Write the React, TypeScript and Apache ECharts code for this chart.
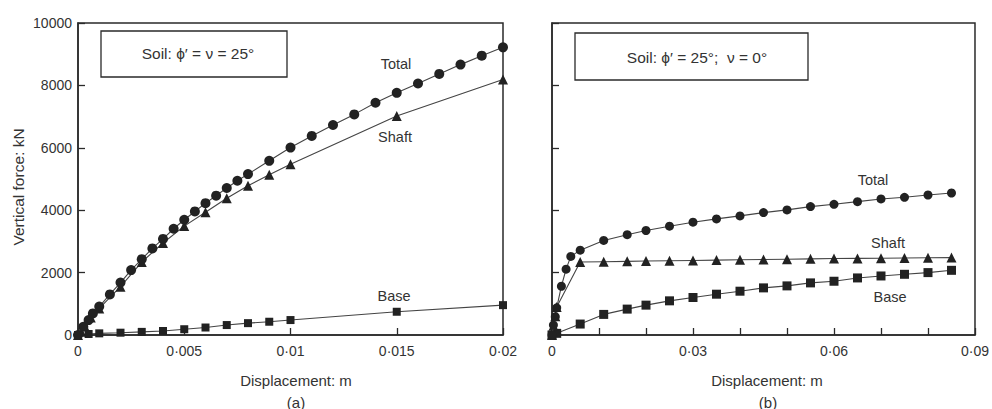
import React, { useEffect, useRef } from "react";
import * as echarts from "echarts";

// Panel (a): Soil φ' = ν = 25°  — [displacement m, force kN]
const aTotal: number[][] = [
  [0, 0], [0.00025, 265], [0.0005, 478], [0.0007, 691], [0.001, 910], [0.0015, 1300],
  [0.002, 1680], [0.0025, 2080], [0.003, 2430], [0.0035, 2775], [0.004, 3080],
  [0.0045, 3405], [0.005, 3695], [0.0055, 3960], [0.006, 4225], [0.0065, 4466],
  [0.007, 4711], [0.0075, 4944], [0.008, 5157], [0.009, 5583], [0.01, 6007],
  [0.011, 6380], [0.012, 6731], [0.013, 7071], [0.014, 7443], [0.015, 7762],
  [0.016, 8060], [0.017, 8368], [0.018, 8666], [0.019, 8953], [0.02, 9220],
];
const aShaft: number[][] = [
  [0, 0], [0.00015, 105], [0.0003, 300], [0.0006, 560], [0.001, 851], [0.002, 1550],
  [0.003, 2339], [0.004, 2950], [0.005, 3490], [0.006, 3935], [0.007, 4381],
  [0.008, 4785], [0.009, 5136], [0.01, 5476], [0.015, 7018], [0.02, 8188],
];
const aBase: number[][] = [
  [0, 0], [0.0005, 32], [0.001, 53], [0.002, 74], [0.003, 100], [0.004, 128],
  [0.005, 185], [0.006, 240], [0.007, 319], [0.008, 380], [0.009, 425],
  [0.01, 479], [0.015, 745], [0.02, 957],
];

// Panel (b): Soil φ' = 25°; ν = 0°
const bTotal: number[][] = [
  [0, 0], [0.0003, 319], [0.0007, 585], [0.001, 870], [0.002, 1563], [0.003, 2110],
  [0.004, 2520], [0.006, 2720], [0.011, 3030], [0.016, 3215], [0.02, 3349],
  [0.025, 3487], [0.03, 3615], [0.035, 3721], [0.04, 3817], [0.045, 3923],
  [0.05, 4009], [0.055, 4115], [0.06, 4189], [0.065, 4274], [0.07, 4360],
  [0.075, 4413], [0.08, 4487], [0.085, 4551],
];
const bShaft: number[][] = [
  [0, 0], [0.0003, 300], [0.0007, 600], [0.001, 900], [0.006, 2340], [0.011, 2350],
  [0.016, 2360], [0.02, 2370], [0.025, 2380], [0.03, 2390], [0.035, 2400],
  [0.04, 2410], [0.045, 2420], [0.05, 2430], [0.055, 2440], [0.06, 2450],
  [0.065, 2455], [0.07, 2460], [0.075, 2470], [0.08, 2475], [0.085, 2480],
];
const bBase: number[][] = [
  [0, 0], [0.001, 53], [0.006, 351], [0.011, 660], [0.016, 830], [0.02, 957],
  [0.025, 1095], [0.03, 1202], [0.035, 1308], [0.04, 1404], [0.045, 1510],
  [0.05, 1574], [0.055, 1670], [0.06, 1723], [0.065, 1829], [0.07, 1892],
  [0.075, 1946], [0.08, 2000], [0.085, 2073],
];

const yTicks = { min: 0, max: 10000, interval: 2000 };
const aXTicks = { min: 0, max: 0.02, interval: 0.005 };
const bXTicks = { min: 0, max: 0.09, interval: 0.01, labelEvery: 0.03 };

const FONT = "'Liberation Sans', Arial, sans-serif";
const INK = "#2a2a2a";
const TXT = "#333";

const fmt = (v: number) => String(+v.toFixed(4)).replace(".", "\u00b7");

export default function App() {
  const ref = useRef<HTMLDivElement>(null);
  useEffect(() => {
    document.body.style.margin = "0";
    const chart = echarts.init(ref.current!, null, { renderer: "svg" });
    const axisLine = { show: true, lineStyle: { color: INK, width: 1.5 } };
    const axisTick = { show: true, inside: true, length: 7, lineStyle: { color: INK, width: 1.3 } };
    const lbl = { color: TXT, fontFamily: FONT, fontSize: 14 };
    const lineSeries = (data: number[][], idx: number, symbol: string, size: number) => ({
      type: "line",
      xAxisIndex: idx,
      yAxisIndex: idx,
      data,
      symbol,
      symbolSize: size,
      showSymbol: true,
      lineStyle: { color: "#444", width: 1.1 },
      itemStyle: { color: "#222", borderWidth: 0 },
      z: symbol === "circle" ? 4 : 3,
    });
    const text = (t: string, x: number, y: number, size = 14, extra: any = {}) => ({
      type: "text",
      x,
      y,
      ...extra,
      style: {
        text: t,
        fill: TXT,
        font: `${size}px ${FONT}`,
        align: "center",
        verticalAlign: "middle",
        textAlign: "center",
        textVerticalAlign: "middle",
      },
      z: 10,
    });
    chart.setOption({
      animation: false,
      backgroundColor: "#fff",
      grid: [
        { left: 78, top: 23, width: 425, height: 312, show: true, borderColor: INK, borderWidth: 1.5, backgroundColor: "transparent" },
        { left: 552, top: 23, width: 424, height: 312, show: true, borderColor: INK, borderWidth: 1.5, backgroundColor: "transparent" },
      ],
      xAxis: [
        {
          type: "value", gridIndex: 0, min: aXTicks.min, max: aXTicks.max, interval: aXTicks.interval,
          axisLine, axisTick, splitLine: { show: false },
          axisLabel: { ...lbl, margin: 9, formatter: (v: number) => fmt(v) },
        },
        {
          type: "value", gridIndex: 1, min: bXTicks.min, max: bXTicks.max, interval: bXTicks.interval,
          axisLine, axisTick, splitLine: { show: false },
          axisLabel: {
            ...lbl, margin: 9,
            formatter: (v: number) => (Math.round(v * 100) % Math.round(bXTicks.labelEvery * 100) === 0 ? fmt(v) : ""),
          },
        },
      ],
      yAxis: [
        {
          type: "value", gridIndex: 0, min: yTicks.min, max: yTicks.max, interval: yTicks.interval,
          axisLine, axisTick, splitLine: { show: false },
          axisLabel: { ...lbl, margin: 6, formatter: (v: number) => String(Math.round(v)) },
        },
        {
          type: "value", gridIndex: 1, min: yTicks.min, max: yTicks.max, interval: yTicks.interval,
          axisLine, axisTick, splitLine: { show: false },
          axisLabel: { show: false },
        },
      ],
      series: [
        lineSeries(aBase, 0, "rect", 8),
        lineSeries(aShaft, 0, "triangle", 10),
        lineSeries(aTotal, 0, "circle", 10),
        lineSeries(bBase, 1, "rect", 9),
        lineSeries(bShaft, 1, "triangle", 10),
        lineSeries(bTotal, 1, "circle", 9),
      ],
      graphic: [
        { type: "rect", shape: { x: 101, y: 31, width: 186, height: 46 }, style: { fill: "#fff", stroke: INK, lineWidth: 1.3 }, z: 9 },
        text("Soil: \u03d5\u2032 = \u03bd = 25\u00b0", 198, 53, 15.5),
        { type: "rect", shape: { x: 575, y: 33, width: 233, height: 47 }, style: { fill: "#fff", stroke: INK, lineWidth: 1.3 }, z: 9 },
        text("Soil: \u03d5\u2032 = 25\u00b0;  \u03bd = 0\u00b0", 697, 57, 15.5),
        text("Total", 396, 64, 14.5),
        text("Shaft", 395, 137, 14.5),
        text("Base", 394, 296, 14.5),
        text("Total", 873, 180, 14.5),
        text("Shaft", 888, 243, 14.5),
        text("Base", 890, 297, 14.5),
        text("Displacement: m", 296, 380, 15),
        text("(a)", 296, 402, 15),
        text("Displacement: m", 767, 380, 15),
        text("(b)", 768, 402, 15),
        text("Vertical force: kN", 18, 187, 15.5, { rotation: Math.PI / 2 }),
      ],
    });
    return () => chart.dispose();
  }, []);
  return <div ref={ref} style={{ width: 992, height: 409 }} />;
}
